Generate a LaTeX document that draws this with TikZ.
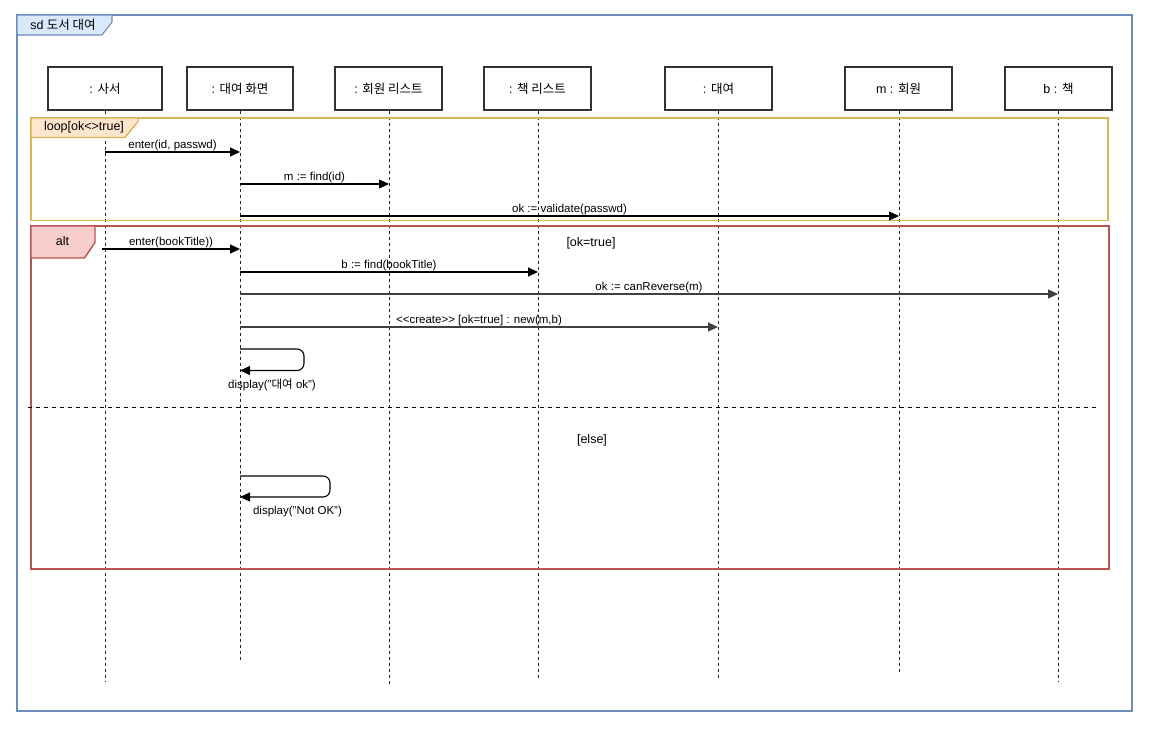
\documentclass[tikz,border=0pt]{standalone}
\usepackage{fontspec}
\setmainfont{Liberation Sans}
\newfontfamily\kr{Noto Sans CJK KR}
\usetikzlibrary{arrows.meta}
\definecolor{frameblue}{HTML}{6C8EBF}
\definecolor{tabblue}{HTML}{DAE8FC}
\definecolor{loopline}{HTML}{D6B656}
\definecolor{loopfill}{HTML}{FFE6CC}
\definecolor{altline}{HTML}{B85450}
\definecolor{altfill}{HTML}{F8CECC}
\begin{document}
\begin{tikzpicture}[x=1pt,y=-1pt,
  lifebox/.style={draw=black!80, line width=1.3pt, fill=white, minimum width=107pt, minimum height=43pt, inner sep=0pt, font=\fontsize{12.5}{14}\selectfont},
  lifeline/.style={draw=black!85, line width=1pt, dash pattern=on 3pt off 3pt},
  msg/.style={-{Triangle[length=10pt,width=9pt]}, line width=1.1pt, draw=black},
  msggray/.style={msg, draw=black!75},
  msglabel/.style={font=\fontsize{11.5}{13}\selectfont, inner sep=1pt, above},
  freelabel/.style={font=\fontsize{11.5}{13}\selectfont, inner sep=1pt},
  guard/.style={font=\fontsize{12.5}{14}\selectfont, inner sep=1pt},
  tablabel/.style={font=\fontsize{12.5}{14}\selectfont, inner sep=1pt}]
\useasboundingbox (0,0) rectangle (1167,738);
\fill[white] (0,0) rectangle (1167,738);
% outer frame
\draw[frameblue, line width=1.1pt, fill=white] (17,15) rectangle (1132,711);
\draw[frameblue, line width=1.1pt, fill=tabblue] (17,15) -- (112,15) -- (112,22) -- (102,35) -- (17,35) -- cycle;
\node[tablabel] (sdlabel) at (63,25) {sd {\kr 도서 대여}};
% lifeline boxes
\node[lifebox, minimum width=114pt] (L1) at (105,88.5) {: {\kr 사서}};
\node[lifebox, minimum width=106pt] (L2) at (240,88.5) {: {\kr 대여 화면}};
\node[lifebox] (L3) at (388.5,88.5) {: {\kr 회원 리스트}};
\node[lifebox] (L4) at (537.5,88.5) {: {\kr 책 리스트}};
\node[lifebox] (L5) at (718.5,88.5) {: {\kr 대여}};
\node[lifebox] (L6) at (898.5,88.5) {m : {\kr 회원}};
\node[lifebox] (L7) at (1058.5,88.5) {b : {\kr 책}};
% lifeline ends
\coordinate (E1) at (105,681);
\coordinate (E2) at (240,662);
\coordinate (E3) at (389,685);
\coordinate (E4) at (538,679);
\coordinate (E5) at (718,680);
\coordinate (E6) at (899,672);
\coordinate (E7) at (1058,681);
\draw[lifeline] (L1.south -| E1) -- (E1);
\draw[lifeline] (L2.south -| E2) -- (E2);
\draw[lifeline] (L3.south -| E3) -- (E3);
\draw[lifeline] (L4.south -| E4) -- (E4);
\draw[lifeline] (L5.south -| E5) -- (E5);
\draw[lifeline] (L6.south -| E6) -- (E6);
\draw[lifeline] (L7.south -| E7) -- (E7);
% loop fragment
\draw[loopline, line width=1.4pt] (31,118) rectangle (1108,220.5);
\draw[loopline, line width=1.4pt, fill=loopfill] (31,118) -- (138,118) -- (138,121.5) -- (125,137.5) -- (31,137.5) -- cycle;
\node[tablabel] (looplabel) at (84,127.5) {loop[ok<>true]};
% alt fragment
\draw[altline, line width=1.4pt] (31,226) rectangle (1109,569);
\draw[altline, line width=1.4pt, fill=altfill] (31,226) -- (95,226) -- (95,242.5) -- (84.5,258) -- (31,258) -- cycle;
\node[tablabel] (altlabel) at (62.5,241.5) {alt};
\coordinate (S1) at (28,407.5);
\coordinate (S2) at (1097,407.5);
\draw[black, line width=1pt, dash pattern=on 4pt off 4pt] (S1) -- (S2);
\node[guard] (g1) at (591,243) {[ok=true]};
\node[guard] (g2) at (592,440) {[else]};
% messages
\draw[msg] (E1 |- 0,152) -- node[msglabel] {enter(id, passwd)} (E2 |- 0,152);
\draw[msg] (E2 |- 0,184) -- node[msglabel] {m := find(id)} (E3 |- 0,184);
\draw[msg] (E2 |- 0,216) -- node[msglabel] {ok := validate(passwd)} (E6 |- 0,216);
\coordinate (B0) at (102,249);
\draw[msg] (B0) -- node[msglabel] {enter(bookTitle))} (E2 |- B0);
\draw[msg] (E2 |- 0,272) -- node[msglabel] {b := find(bookTitle)} (E4 |- 0,272);
\draw[msggray] (E2 |- 0,294) -- node[msglabel] {ok := canReverse(m)} (E7 |- 0,294);
\draw[msggray] (E2 |- 0,327) -- node[msglabel] {{<}{<}create{>}{>} [ok=true] : new(m,b)} (E5 |- 0,327);
% self calls
\coordinate (C1) at (304,349);
\coordinate (C2) at (304,370.5);
\draw[msg, rounded corners=7pt] (E2 |- C1) -- (C1) -- (C2) -- (E2 |- C2);
\node[freelabel] (d1) at (272,384.5) {display("{\kr 대여} ok")};
\coordinate (C3) at (330,476);
\coordinate (C4) at (330,497);
\draw[msg, rounded corners=7pt] (E2 |- C3) -- (C3) -- (C4) -- (E2 |- C4);
\node[freelabel] (d2) at (297.5,511.5) {display("Not OK")};
\end{tikzpicture}
\end{document}
